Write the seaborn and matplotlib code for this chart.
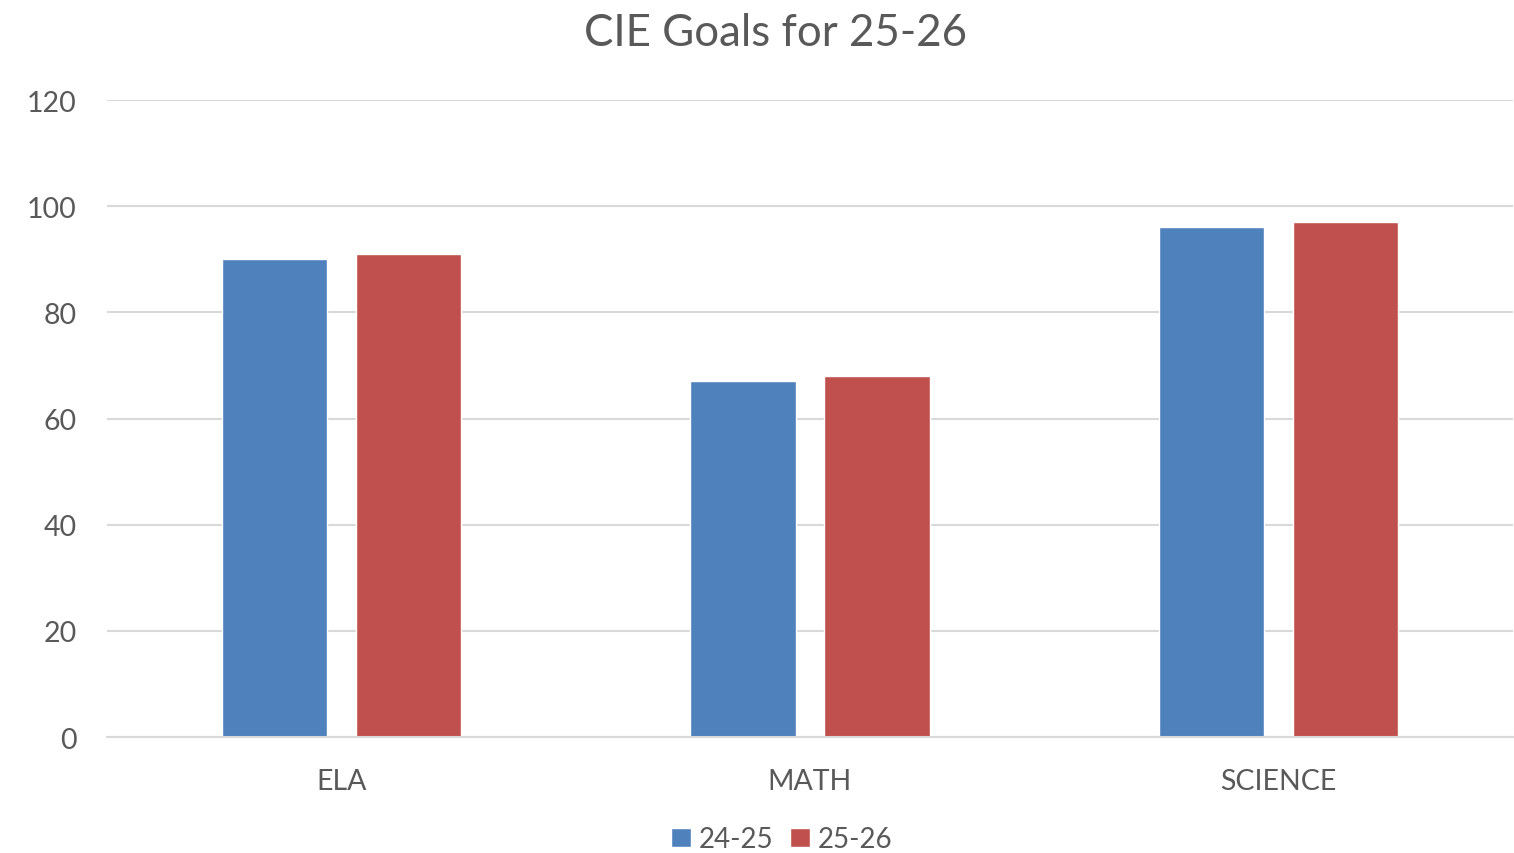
import pandas as pd
import matplotlib.pyplot as plt
import seaborn as sns

# Данные
subjects = ['ELA', 'MATH', 'SCIENCE']
years = ['24-25', '25-26']
goals_2425 = [90, 67, 96]
goals_2526 = [91, 68, 97]
y_ticks = [0, 20, 40, 60, 80, 100, 120]

df = pd.DataFrame({
    'subject': subjects * 2,
    'year': [years[0]] * 3 + [years[1]] * 3,
    'goal': goals_2425 + goals_2526,
})

sns.set_style('white')
plt.rcParams['font.family'] = ['Lato', 'DejaVu Sans']
text_col = '#595959'

fig = plt.figure(figsize=(15.14, 8.54), dpi=100)
ax = fig.add_axes([0.0707, 0.1358, 0.9286, 0.7459])

sns.barplot(data=df, x='subject', y='goal', hue='year',
            palette=['#4F81BD', '#C0504D'], width=0.572, gap=0.216,
            saturation=1, ax=ax)

ax.set_ylim(0, 120)
ax.set_xlim(-0.5, 2.5)
ax.set_yticks(y_ticks)
ax.yaxis.grid(True, color='#D9D9D9', linewidth=1.5)
ax.set_axisbelow(True)
for s in ['top', 'right', 'left']:
    ax.spines[s].set_visible(False)
ax.spines['bottom'].set_color('#D9D9D9')
ax.spines['bottom'].set_linewidth(1.5)
ax.tick_params(axis='both', length=0, labelsize=20.5, colors=text_col)
ax.tick_params(axis='y', pad=22)
ax.tick_params(axis='x', pad=22)
ax.set_xlabel('')
ax.set_ylabel('')

fig.suptitle('CIE Goals for 25-26', x=0.5125, y=0.985, fontsize=31.6, color=text_col)

handles, labels = ax.get_legend_handles_labels()
ax.legend(handles, labels, loc='lower center', bbox_to_anchor=(0.48, -0.22),
          ncol=2, frameon=False, fontsize=20, labelcolor=text_col,
          handlelength=0.7, handleheight=0.7, handletextpad=0.3,
          columnspacing=0.6)

fig.savefig('out.png', dpi=100)
